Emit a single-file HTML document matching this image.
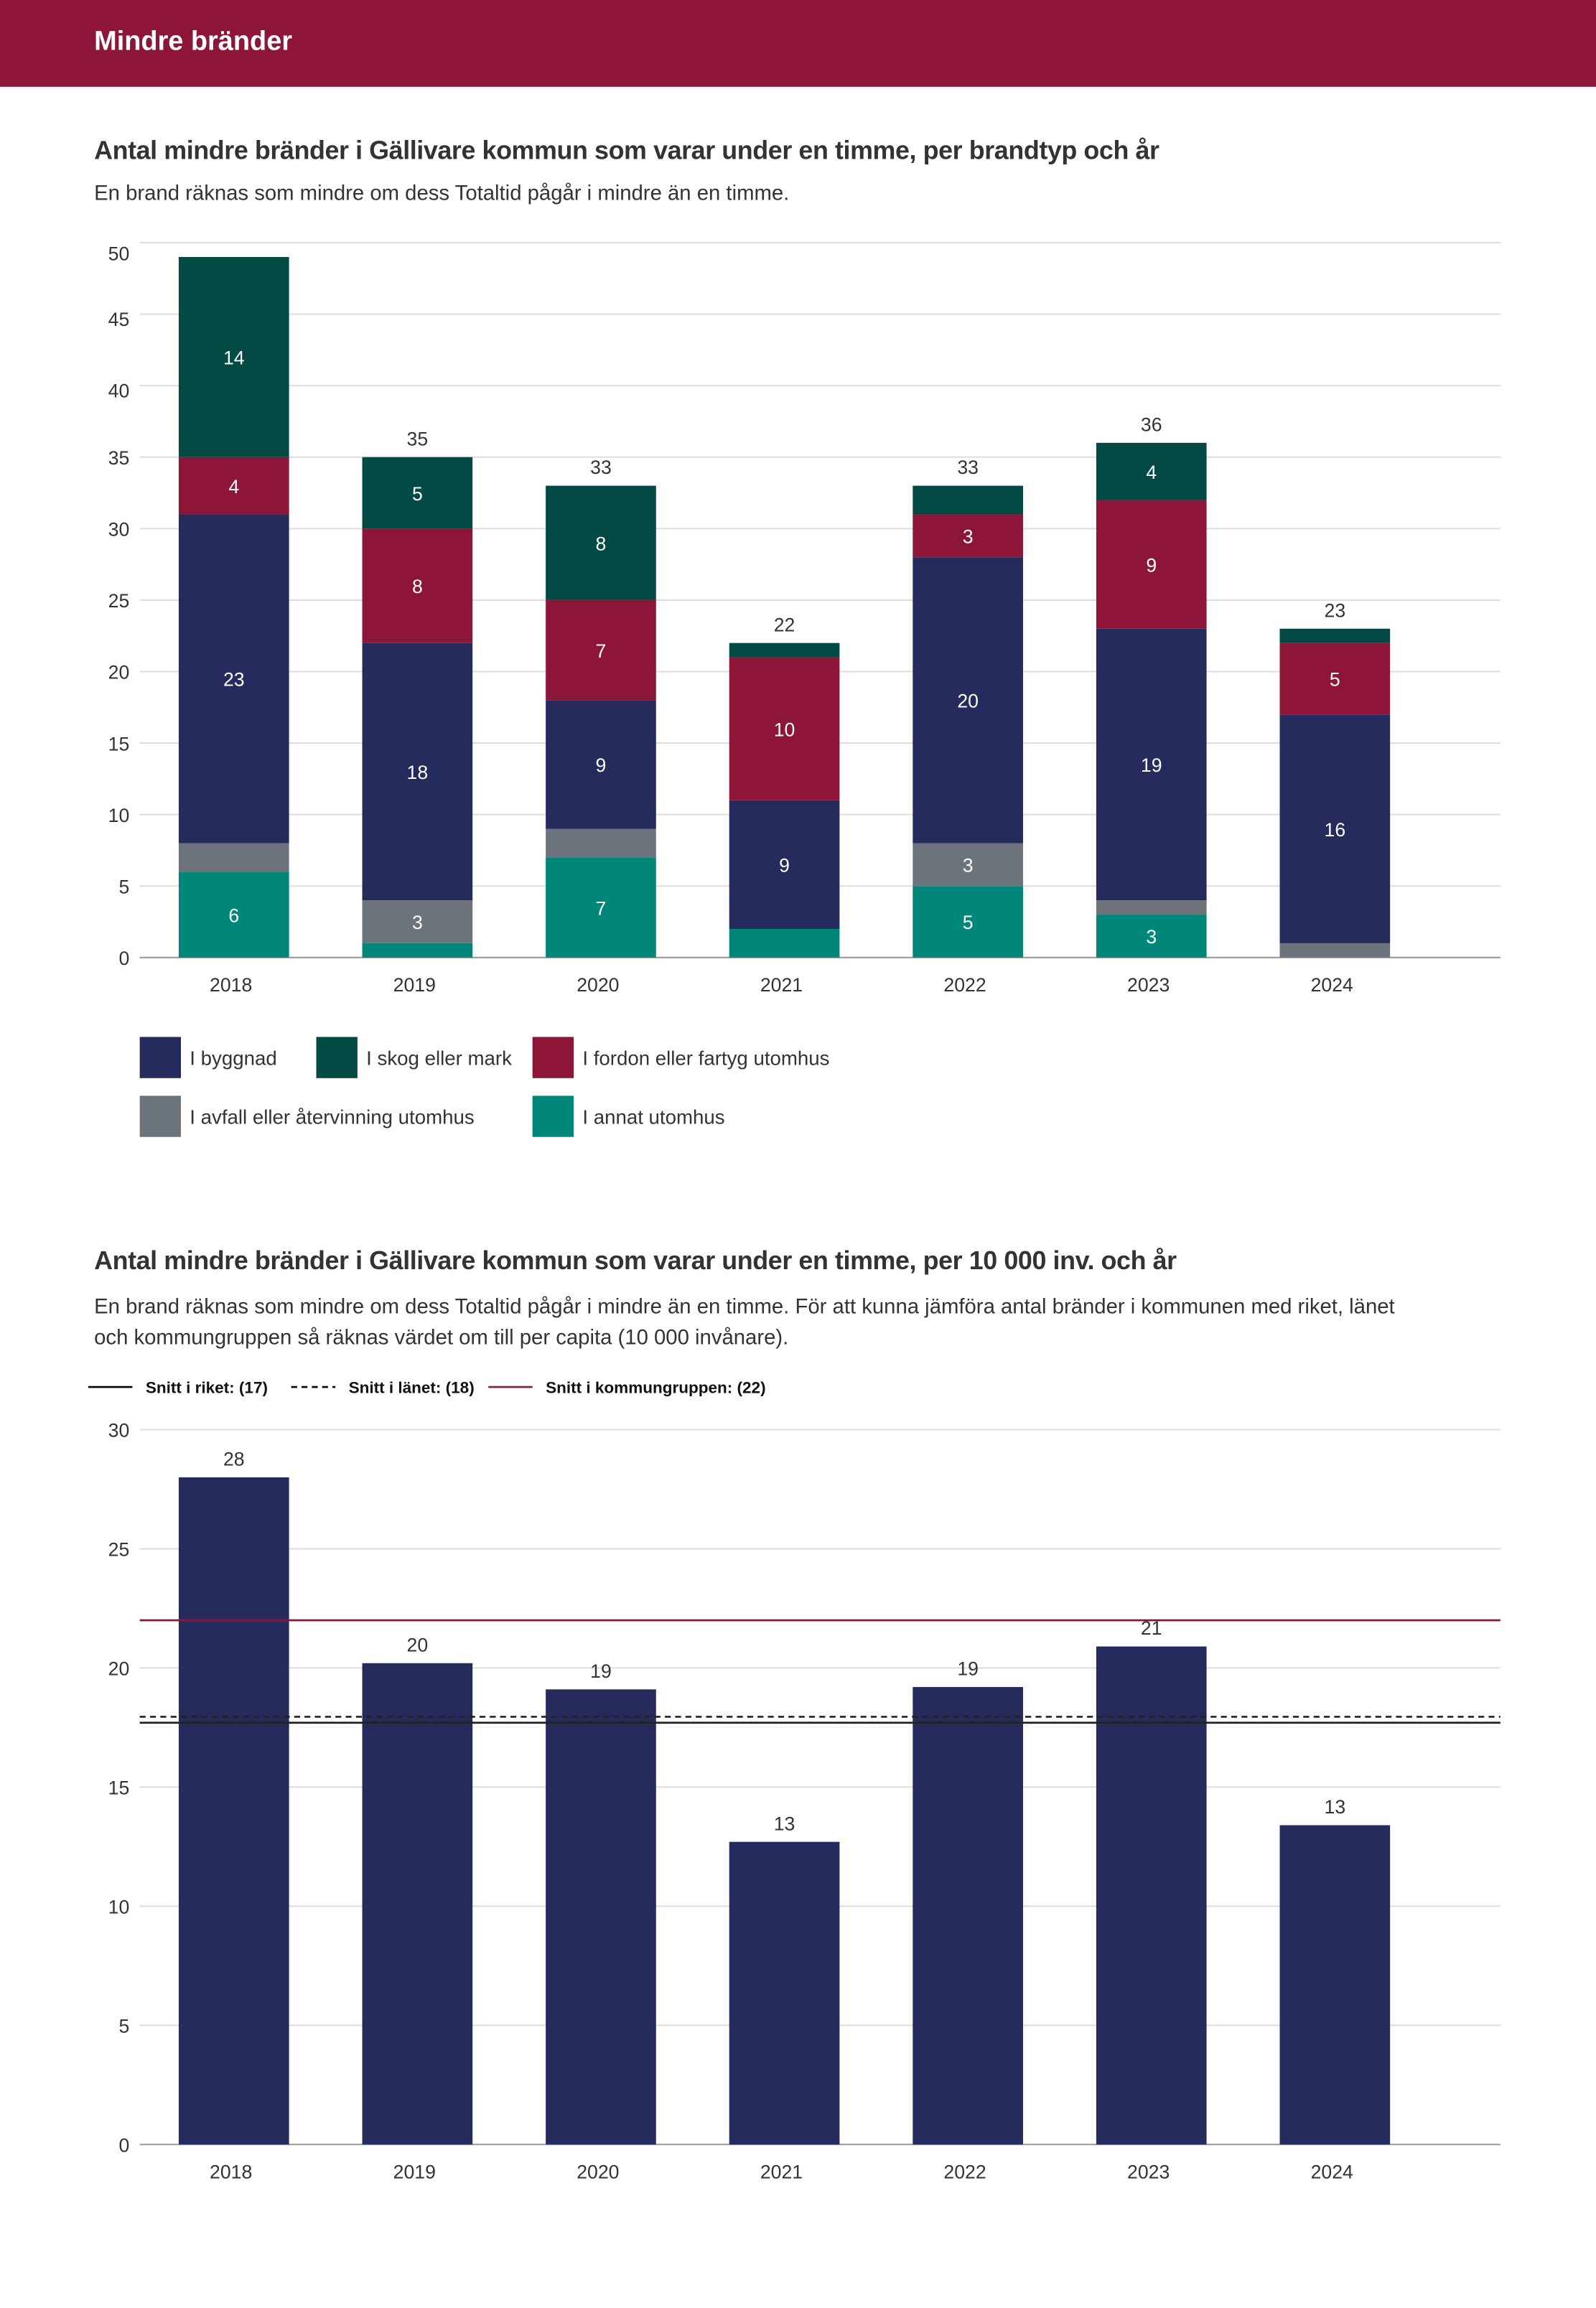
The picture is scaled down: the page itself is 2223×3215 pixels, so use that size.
<!DOCTYPE html>
<html><head><meta charset="utf-8">
<style>
html,body{margin:0;padding:0;background:#fff;width:2223px;height:3213px;overflow:hidden}
#wrap{position:absolute;left:0;top:0;width:1085px;height:1569px;transform:scale(2.04885);transform-origin:0 0;font-family:"Liberation Sans",sans-serif;color:#333}
.hdr{position:absolute;left:0;top:0;width:1085px;height:59px;background:#8c1538;color:#fff;font-size:18.5px;font-weight:bold}
.hdr span{position:absolute;left:64px;top:17px}
.t{position:absolute;left:64px;font-size:17.5px;font-weight:bold;color:#333;letter-spacing:-0.2px}
.s{position:absolute;left:64px;font-size:14.3px;color:#333;line-height:21px;width:935px}
svg text{font-family:"Liberation Sans",sans-serif}
</style></head><body>
<div id="wrap">
<div class="hdr"><span>Mindre bränder</span></div>
<div class="t" style="top:92px">Antal mindre bränder i Gällivare kommun som varar under en timme, per brandtyp och år</div>
<div class="s" style="top:122px">En brand räknas som mindre om dess Totaltid pågår i mindre än en timme.</div>
<svg id="c1" style="position:absolute;left:0;top:150px" width="1085" height="640"></svg>
<div class="t" style="top:847px">Antal mindre bränder i Gällivare kommun som varar under en timme, per 10 000 inv. och år</div>
<div class="s" style="top:879px">En brand räknas som mindre om dess Totaltid pågår i mindre än en timme. För att kunna jämföra antal bränder i kommunen med riket, länet<br>och kommungruppen så räknas värdet om till per capita (10 000 invånare).</div>
<svg id="c2" style="position:absolute;left:0;top:930px" width="1085" height="570"></svg>
</div>
<script>
const years=["2018","2019","2020","2021","2022","2023","2024"];
const annat=[6,1,7,2,5,3,0];
const avfall=[2,3,2,0,3,1,1];
const byggnad=[23,18,9,9,20,19,16];
const fordon=[4,8,7,10,3,9,5];
const skog=[14,5,8,1,2,4,1];
const ticks1=[0,5,10,15,20,25,30,35,40,45,50];
const perCapita=[28,20.2,19.1,12.7,19.2,20.9,13.4];
const ticks2=[0,5,10,15,20,25,30];
const refRiket=17.7, refLanet=17.95, refGrupp=22.0;

const NS="http://www.w3.org/2000/svg";
function mk(p,tag,a,txt){const e=document.createElementNS(NS,tag);for(const k in a)e.setAttribute(k,a[k]);if(txt!==undefined)e.textContent=txt;p.appendChild(e);return e;}
const xC=i=>159+i*124.75, bw=75;

const c1=document.getElementById('c1');
const S1=9.72;
const y1=v=>501-v*S1;
ticks1.forEach(t=>{
 const l=mk(c1,'line',{x1:95,x2:1020,y1:y1(t),y2:y1(t),stroke:t===0?'#999':'#ddd','stroke-width':1});
 
 
 const tx=mk(c1,'text',{x:88,y:y1(t)+(t===0?5:(t>=40?(t===50?12:8):5)),'text-anchor':'end','font-size':13,fill:'#333'},t);
 
 
});
const series=[["annat",annat,"#00877a"],["avfall",avfall,"#6d737b"],["byggnad",byggnad,"#252b5c"],["fordon",fordon,"#8c1538"],["skog",skog,"#024a43"]];
years.forEach((yr,i)=>{
 let acc=0;
 series.forEach(([nm,arr,col])=>{
  const v=arr[i]; if(!v){return;}
  const r=mk(c1,'rect',{x:xC(i)-bw/2,y:y1(acc+v),width:bw,height:v*S1,fill:col});
  
  
  if(v>=3){const t=mk(c1,'text',{x:xC(i),y:y1(acc+v/2)+5,'text-anchor':'middle','font-size':13,fill:'#fff'},v);
   
   }
  acc+=v;
 });
 if(y1(acc)-8>y1(47)){const t=mk(c1,'text',{x:xC(i),y:y1(acc)-8,'text-anchor':'middle','font-size':13,fill:'#333'},acc);
  
  }
 const xl=mk(c1,'text',{x:xC(i)-2,y:524,'text-anchor':'middle','font-size':13,fill:'#333'},yr);
 
 
});
const leg=[["I byggnad","#252b5c",95,555],["I skog eller mark","#024a43",215,555],["I fordon eller fartyg utomhus","#8c1538",362,555],["I avfall eller återvinning utomhus","#6d737b",95,595],["I annat utomhus","#00877a",362,595]];
leg.forEach(([lab,col,x,y])=>{
 const g=mk(c1,'g',{});
 
 
 mk(g,'rect',{x:x,y:y,width:28,height:28,fill:col});
 mk(g,'text',{x:x+34,y:y+19,'font-size':13.5,fill:'#333'},lab);
});

const c2=document.getElementById('c2');
const y2=v=>528-v*16.2;
const lg=[[60,"solid","Snitt i riket: (17)","#000"],[198,"dash","Snitt i länet: (18)","#000"],[332,"solid","Snitt i kommungruppen: (22)","#8c1538"]];
lg.forEach(([x,st,lab,col])=>{
 const g=mk(c2,'g',{});
 
 
 const a={x1:x,x2:x+30,y1:13,y2:13,stroke:col,'stroke-width':1.3};
 if(st==="dash")a['stroke-dasharray']='4,3';
 mk(g,'line',a);
 mk(g,'text',{x:x+39,y:17,'font-size':11,'font-weight':'bold',fill:'#111'},lab);
});
ticks2.forEach(t=>{
 const l=mk(c2,'line',{x1:95,x2:1020,y1:y2(t),y2:y2(t),stroke:t===0?'#999':'#ddd','stroke-width':1});
 
 
 const tx=mk(c2,'text',{x:88,y:y2(t)+5,'text-anchor':'end','font-size':13,fill:'#333'},t);
 
 
});
years.forEach((yr,i)=>{
 const v=perCapita[i];
 const r=mk(c2,'rect',{x:xC(i)-bw/2,y:y2(v),width:bw,height:v*16.2,fill:'#252b5c'});
 
 
 const t=mk(c2,'text',{x:xC(i),y:y2(v)-8,'text-anchor':'middle','font-size':13,fill:'#333'},Math.round(v));
 
 
 const xl=mk(c2,'text',{x:xC(i)-2,y:551,'text-anchor':'middle','font-size':13,fill:'#333'},yr);
 
 
});
const r1=mk(c2,'line',{x1:95,x2:1020,y1:y2(refRiket),y2:y2(refRiket),stroke:'#222','stroke-width':1.3});


const r2=mk(c2,'line',{x1:95,x2:1020,y1:y2(refLanet),y2:y2(refLanet),stroke:'#222','stroke-width':1.3,'stroke-dasharray':'4,3'});


const r3=mk(c2,'line',{x1:95,x2:1020,y1:y2(refGrupp),y2:y2(refGrupp),stroke:'#8c1538','stroke-width':1.3});


</script>
</body></html>
